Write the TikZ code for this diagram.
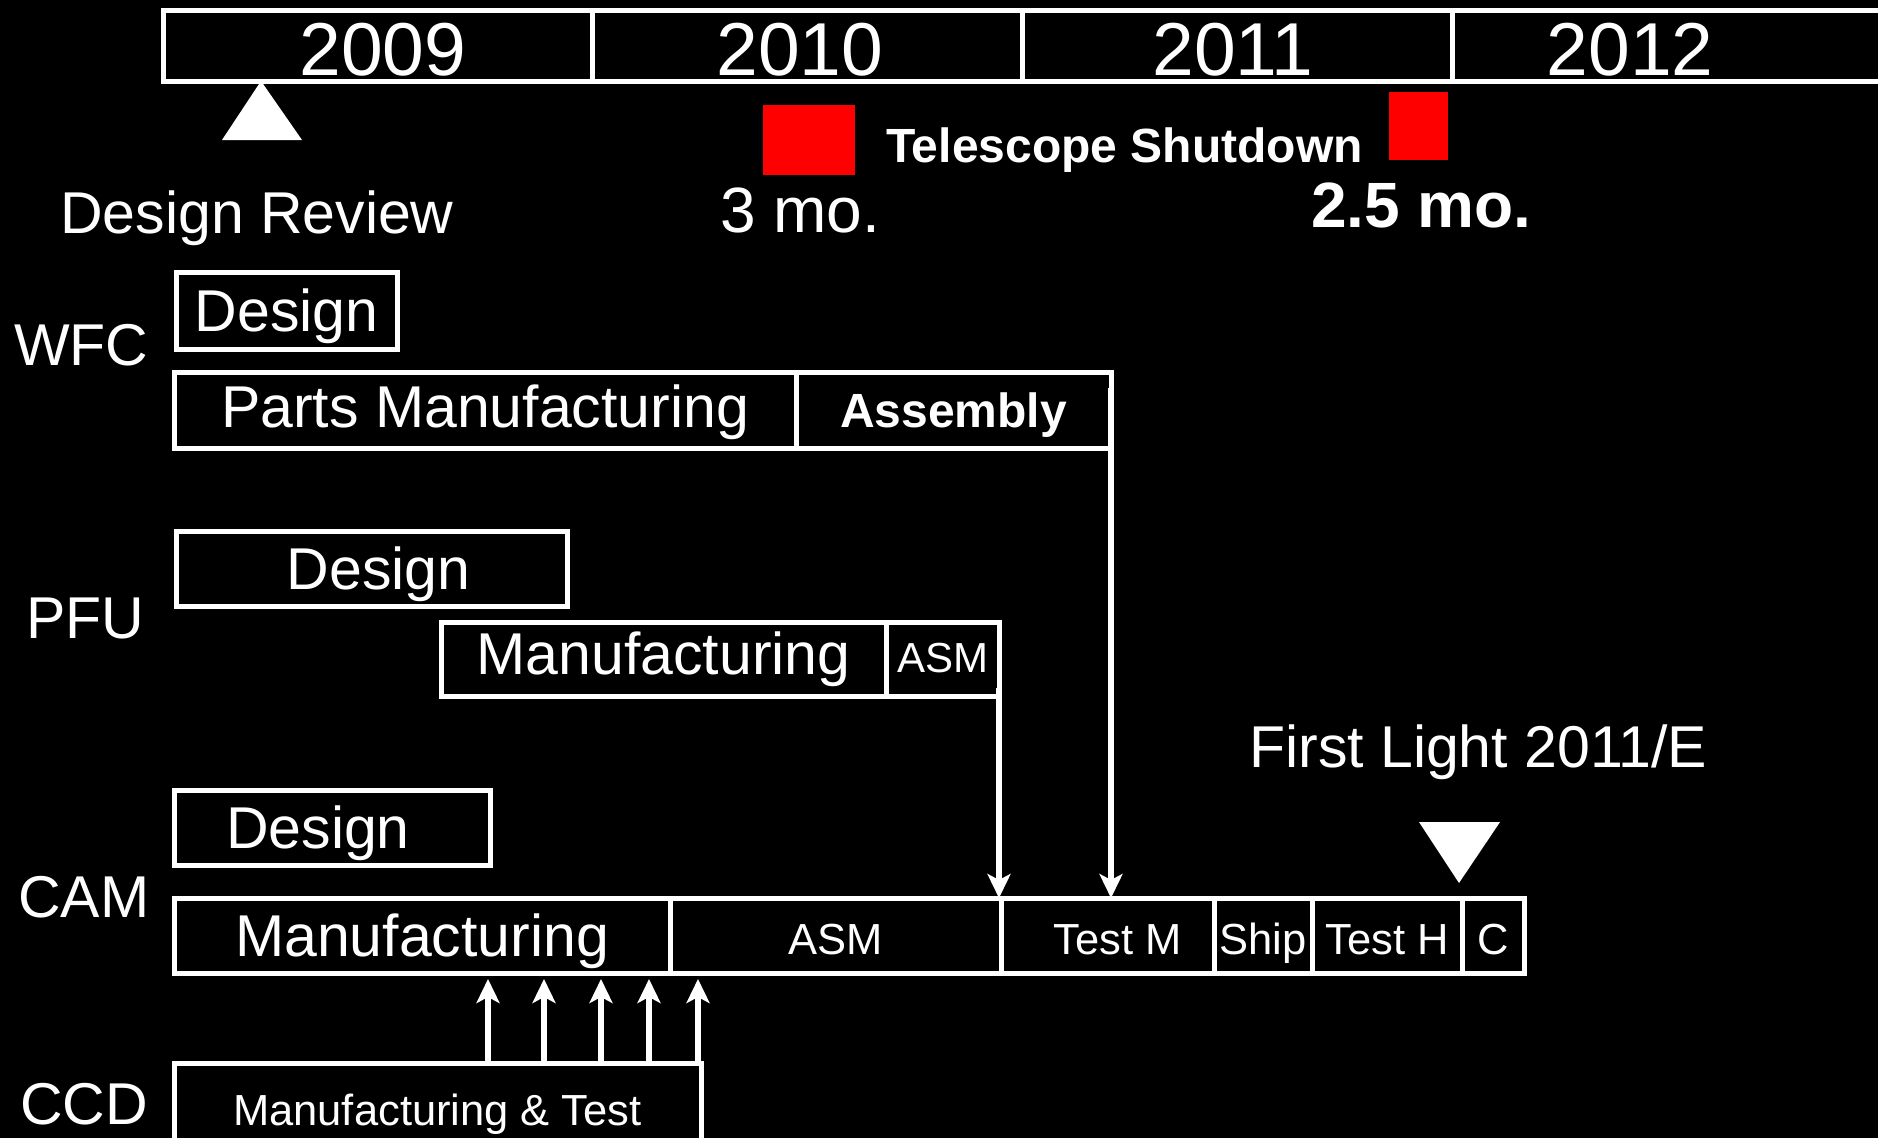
\documentclass[tikz,border=0pt]{standalone}
\usepackage{fontspec}
\setmainfont{Liberation Sans}
\usetikzlibrary{positioning, arrows.meta}
\definecolor{fondo}{HTML}{000000}
\definecolor{trazo}{HTML}{FFFFFF}
\definecolor{parada}{HTML}{FF0000}

\begin{document}
\begin{tikzpicture}[x=1pt, y=-1pt,
    texto/.style={text=trazo, inner sep=0pt, anchor=base west},
    grande/.style={font=\fontsize{59}{64}\selectfont},
    medio/.style={font=\fontsize{43.5}{48}\selectfont},
    reja/.style={draw=trazo, line width=5pt},
    barra/.style={reja, text=trazo, inner sep=0pt, outer sep=0pt, anchor=north west,
                  grande, text height=42.2pt, text depth=0pt},
    barrachica/.style={barra, medio, text height=37pt},
    flecha/.style={-{Stealth[length=24pt, width=23pt, inset=6pt]}, draw=trazo, line width=6.5pt}]
    \fill[fondo] (0,0) rectangle (1878,1138);
    \useasboundingbox (0,0) rectangle (1878,1138);

    % years
    \draw[reja] (163,10) rectangle (1895,81);
    \foreach \x in {592,1022,1452}
        \draw[reja] (\x,10) -- (\x,81);
    \foreach \anio/\x in {2009/383, 2010/800, 2011/1233, 2012/1630}
        \node[texto, anchor=base, font=\fontsize{75}{80}\selectfont] (a\anio) at (\x,75) {\anio};

    % milestones and shutdowns
    \fill[trazo] (222,140) -- (261,81) -- (302,140) -- cycle;
    \node[texto, grande] (revision) at (60,233) {Design Review};
    \fill[parada] (763,105) rectangle (855,175);
    \fill[parada] (1389,92) rectangle (1448,160);
    \node[texto, font=\bfseries\fontsize{48}{52}\selectfont] (cierre) at (886,162) {Telescope Shutdown};
    \node[texto, font=\fontsize{64}{68}\selectfont] (cierrea) at (720,232) {3 mo.};
    \node[texto, font=\bfseries\fontsize{64}{68}\selectfont] (cierreb) at (1311,227) {2.5 mo.};
    \fill[trazo] (1419,822) -- (1500,822) -- (1459,883) -- cycle;
    \node[texto, grande] (primeraluz) at (1249,767) {First Light 2011/E};

    % rows
    \node[texto, grande] (wfc) at (14,365) {WFC};
    \node[texto, grande] (pfu) at (26,638) {PFU};
    \node[texto, grande] (cam) at (18,917) {CAM};
    \node[texto, grande] (ccd) at (20,1124) {CCD};

    % WFC
    \node[barra, minimum width=221pt, minimum height=77pt] (wfcdis) at (176,272) {Design};
    \node[barra, minimum width=622pt, minimum height=76pt, text depth=8pt] (wfcpar) at (174,372) {Parts Manufacturing};
    \node[barra, minimum width=315pt, minimum height=76pt, text height=34.4pt,
          font=\bfseries\fontsize{48}{52}\selectfont, right=0pt of wfcpar] (wfcasm) {Assembly};

    % PFU
    \node[barra, minimum width=391pt, minimum height=75pt] (pfudis) at (176,531) {\hspace{14pt}Design};
    \node[barra, minimum width=445pt, minimum height=74pt, text depth=12pt] (pfuman) at (441,622) {Manufacturing};
    \node[barrachica, minimum width=113pt, minimum height=74pt, text depth=11pt,
          font=\fontsize{42}{46}\selectfont, right=0pt of pfuman] (pfuasm) {ASM};

    % CAM
    \node[barra, minimum width=316pt, minimum height=75pt] (camdis) at (174,790) {\hspace{-28pt}Design};
    \node[barra, minimum width=496pt, minimum height=75pt] (camman) at (174,898) {Manufacturing};
    \node[barrachica, minimum width=331pt, minimum height=75pt, right=0pt of camman] (camasm) {ASM};
    \node[barrachica, minimum width=213pt, minimum height=75pt, right=0pt of camasm] (testm) {\hspace{20pt}Test M};
    \node[barrachica, minimum width=98pt, minimum height=75pt, right=0pt of testm] (envio) {Ship};
    \node[barrachica, minimum width=150pt, minimum height=75pt, right=0pt of envio] (testh) {Test H};
    \node[barrachica, minimum width=62pt, minimum height=75pt, right=0pt of testh] (camc) {C};

    % CCD
    \node[barrachica, minimum width=527pt, minimum height=87pt] (ccdman) at (174,1063) {Manufacturing \& Test};

    % dependencies
    \draw[flecha] ([yshift=-16pt]wfcasm.north east) -- (wfcasm.east |- testm.north);
    \draw[flecha] ([yshift=8pt]pfuasm.south east) -- (pfuasm.east |- camasm.north);
    \foreach \x in {488,544,601,649,698}
        \draw[flecha, shorten >=6pt] (ccdman.north -| \x,0) -- (camman.south -| \x,0);
\end{tikzpicture}
\end{document}
